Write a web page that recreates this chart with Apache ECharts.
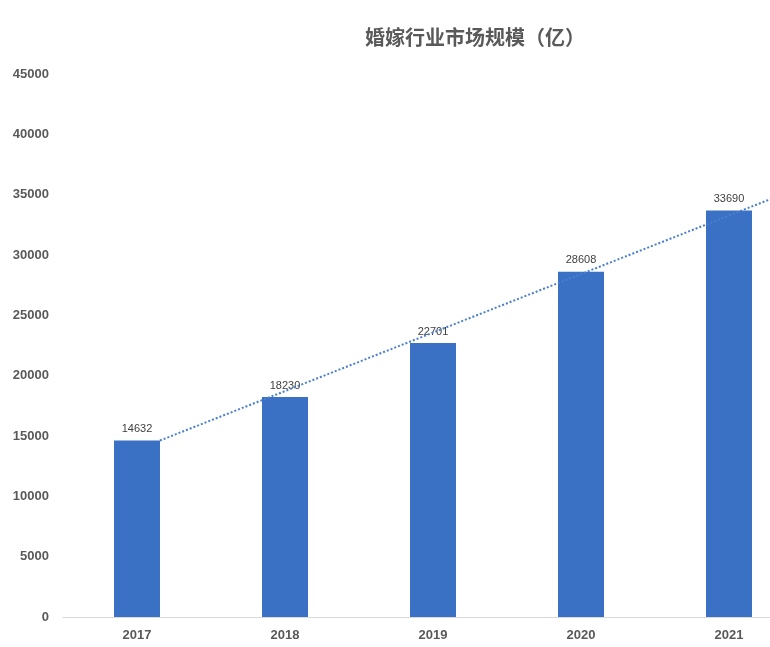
<!DOCTYPE html><html><head><meta charset="utf-8"><script src="https://cdn.jsdelivr.net/npm/echarts@6/dist/echarts.min.js"></script></head><body style="margin:0"><div id="c" style="width:770px;height:647px"></div><script>
const categories=['2017','2018','2019','2020','2021'];
const values=[14632,18230,22701,28608,33690];
const n=values.length,mx=(n-1)/2,my=values.reduce((a,b)=>a+b)/n;
let num=0,den=0;values.forEach((v,i)=>{num+=(i-mx)*(v-my);den+=(i-mx)*(i-mx);});
const slope=num/den,icp=my-slope*mx;
const t0=0.155,t1=4.28;
const trend=[[t0,icp+slope*t0],[t1,icp+slope*t1]];
const ch=echarts.init(document.getElementById('c'));
ch.setOption({
title:{text:'婚嫁行业市场规模（亿）',left:470,top:22,textAlign:'center',textStyle:{fontSize:20,fontWeight:'bold',color:'#595959',fontFamily:'Noto Sans CJK SC'}},
grid:{left:63,top:74,width:740,height:543,containLabel:false,outerBoundsMode:'none'},
xAxis:[{type:'category',data:categories,axisTick:{show:false},axisLine:{lineStyle:{color:'#d9d9d9'}},axisLabel:{color:'#595959',fontWeight:'bold',fontSize:13,margin:12}},
{type:'value',min:-0.5,max:4.5,show:false}],
yAxis:{type:'value',min:0,max:45000,interval:5000,splitLine:{show:false},axisLine:{show:false},axisTick:{show:false},axisLabel:{color:'#595959',fontWeight:'bold',fontSize:13,margin:14,formatter:v=>String(v)}},
series:[{type:'bar',data:values,barWidth:46,itemStyle:{color:'#3a71c5'},label:{show:true,position:'top',color:'#404040',fontSize:11,distance:6}},
{type:'line',xAxisIndex:1,data:trend,symbol:'none',lineStyle:{type:'dotted',width:2,color:'#4a7fd0'},silent:true}]
});
</script></body></html>
